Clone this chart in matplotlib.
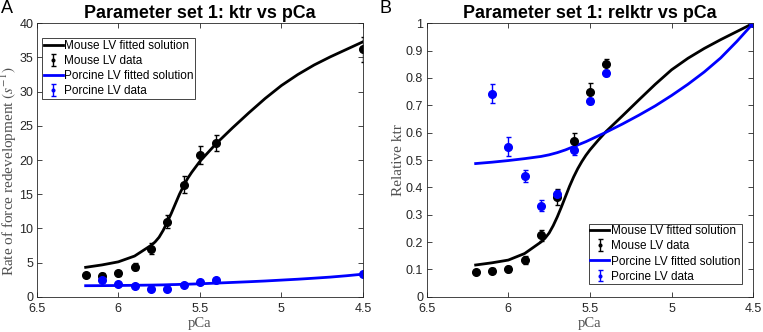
import numpy as np
import matplotlib
matplotlib.use("Agg")
import matplotlib.pyplot as plt

# data
pca_mouse = [6.2, 6.1, 6.0, 5.9, 5.8, 5.7, 5.6, 5.5, 5.4, 4.5]
ktr_mouse = [3.2, 3.1, 3.4, 4.4, 7.0, 11.0, 16.4, 20.7, 22.5, 36.2]
ktr_mouse_err = [0.3, 0.3, 0.4, 0.5, 0.8, 1.0, 1.2, 1.3, 1.2, 1.8]

pca_porc = [6.1, 6.0, 5.9, 5.8, 5.7, 5.6, 5.5, 5.4, 4.5]
ktr_porc = [2.4, 1.8, 1.5, 1.1, 1.2, 1.7, 2.2, 2.5, 3.3]
ktr_porc_err = [0.2, 0.15, 0.1, 0.1, 0.1, 0.1, 0.1, 0.1, 0.1]

rel_mouse = [0.092, 0.095, 0.102, 0.135, 0.225, 0.365, 0.57, 0.75, 0.85, 1.0]
rel_mouse_err = [0.005, 0.01, 0.01, 0.015, 0.02, 0.03, 0.03, 0.03, 0.02, 0.0]
rel_porc = [0.742, 0.548, 0.443, 0.332, 0.375, 0.535, 0.715, 0.817, 1.0]
rel_porc_err = [0.035, 0.035, 0.022, 0.02, 0.015, 0.015, 0.01, 0.01, 0.0]

pca_fit = [6.2, 6.1, 6.0, 5.9, 5.8, 5.775, 5.75, 5.725, 5.7, 5.675, 5.65, 5.625, 5.6,
           5.575, 5.55, 5.525, 5.5, 5.45, 5.4, 5.3, 5.2, 5.1, 5.0, 4.9, 4.8, 4.7, 4.6, 4.5]
fit_mouse = [4.3, 4.65, 5.1, 5.95, 7.5, 8.0, 8.7, 9.7, 10.9, 12.2, 13.6, 15.0, 16.2,
             17.3, 18.2, 19.0, 19.8, 21.1, 22.4, 24.7, 26.9, 29.0, 30.9, 32.5, 33.9, 35.1, 36.2, 37.3]
fit_porc = [1.61, 1.62, 1.64, 1.67, 1.70, 1.71, 1.72, 1.73, 1.75, 1.77, 1.78, 1.80, 1.82,
            1.83, 1.85, 1.87, 1.89, 1.94, 1.99, 2.09, 2.19, 2.30, 2.43, 2.56, 2.71, 2.87, 3.07, 3.3]
fit_rel_mouse = [0.116, 0.124, 0.134, 0.158, 0.200, 0.214, 0.233, 0.26, 0.292, 0.328, 0.366, 0.404,
                 0.438, 0.468, 0.494, 0.517, 0.537, 0.572, 0.605, 0.662, 0.72, 0.777, 0.83,
                 0.872, 0.908, 0.94, 0.97, 1.0]
fit_rel_porc = [0.487, 0.492, 0.498, 0.505, 0.513, 0.516, 0.519, 0.523, 0.527, 0.532, 0.537, 0.543,
                0.549, 0.555, 0.561, 0.567, 0.574, 0.588, 0.602, 0.632, 0.664, 0.698, 0.736,
                0.777, 0.822, 0.873, 0.934, 1.0]

labels = ['Mouse LV fitted solution', 'Mouse LV data',
          'Porcine LV fitted solution', 'Porcine LV data']

plt.rcParams['font.family'] = ['Liberation Sans', 'DejaVu Sans']
plt.rcParams['mathtext.fontset'] = 'stix'

ink = '#262626'
lab = '#505050'
blue = '#0000ff'

fig = plt.figure(figsize=(7.63, 3.32), dpi=100)
ax1 = fig.add_axes([0.0481, 0.1063, 0.4277, 0.8235])
ax2 = fig.add_axes([0.5592, 0.1063, 0.428, 0.8235])


def style_axis(ax):
    ax.set_xlim(6.5, 4.5)
    ax.set_xticks([6.5, 6.0, 5.5, 5.0, 4.5])
    ax.set_xticklabels(['6.5', '6', '5.5', '5', '4.5'])
    ax.tick_params(direction='in', top=True, right=True, labelsize=9,
                   colors=ink, length=3.5, width=0.6, pad=2.5)
    ax.tick_params(axis='x', pad=4.5)
    for s in ax.spines.values():
        s.set_color(ink)
        s.set_linewidth(0.6)
    ax.set_xlabel('pCa', family='Liberation Serif', fontsize=10.5, color=lab)
    ax.xaxis.set_label_coords(0.5, -0.074, transform=ax.transAxes)


def draw(ax, fit_m, data_m, err_m, fit_p, data_p, err_p):
    h1, = ax.plot(pca_fit, fit_m, color='k', lw=2)
    h2 = ax.errorbar(pca_mouse, data_m, yerr=err_m, fmt='o', color='k', ms=5.5,
                     capsize=1.8, elinewidth=1, capthick=1)
    h3, = ax.plot(pca_fit, fit_p, color=blue, lw=2)
    h4 = ax.errorbar(pca_porc, data_p, yerr=err_p, fmt='o', color=blue, ms=5.5,
                     capsize=1.8, elinewidth=1, capthick=1)
    return [h1, h2, h3, h4]


def add_legend(ax, handles, loc, anchor):
    leg = ax.legend(handles, labels, loc=loc, bbox_to_anchor=anchor, fontsize=8.5,
                    markerscale=0.35, frameon=True, fancybox=False, edgecolor=ink,
                    handlelength=1.6, handletextpad=0.1, borderpad=0.15,
                    labelspacing=0.26, borderaxespad=0.0)
    leg.get_frame().set_linewidth(0.6)
    leg.get_frame().set_alpha(1)


# panel A
hs = draw(ax1, fit_mouse, ktr_mouse, ktr_mouse_err, fit_porc, ktr_porc, ktr_porc_err)
style_axis(ax1)
ax1.set_ylim(0, 40)
ax1.set_yticks(range(0, 41, 5))
ax1.set_ylabel(r'Rate of force redevelopment $(s^{-1})$', family='Liberation Serif',
               fontsize=11, color=lab)
ax1.yaxis.set_label_coords(-0.053, 0.458)
ax1.set_title('Parameter set 1: ktr vs pCa', fontsize=12.9, fontweight='bold', pad=4)
add_legend(ax1, hs, 'upper left', (0.016, 0.946))

# panel B
hs = draw(ax2, fit_rel_mouse, rel_mouse, rel_mouse_err, fit_rel_porc, rel_porc, rel_porc_err)
style_axis(ax2)
ax2.set_ylim(0, 1)
ax2.set_yticks(np.arange(0, 1.01, 0.1))
ax2.set_yticklabels(['0', '0.1', '0.2', '0.3', '0.4', '0.5', '0.6', '0.7', '0.8', '0.9', '1'])
ax2.set_ylabel('Relative ktr', family='Liberation Serif', fontsize=11, color=lab)
ax2.yaxis.set_label_coords(-0.066, 0.5)
ax2.set_title('Parameter set 1: relktr vs pCa', fontsize=12.9, fontweight='bold', pad=4)
add_legend(ax2, hs, 'lower right', (0.965, 0.045))

fig.text(0.001, 1.0, 'A', fontsize=13, va='top', ha='left')
fig.text(0.498, 1.0, 'B', fontsize=13, va='top', ha='left')

fig.savefig('out.png', dpi=100)
